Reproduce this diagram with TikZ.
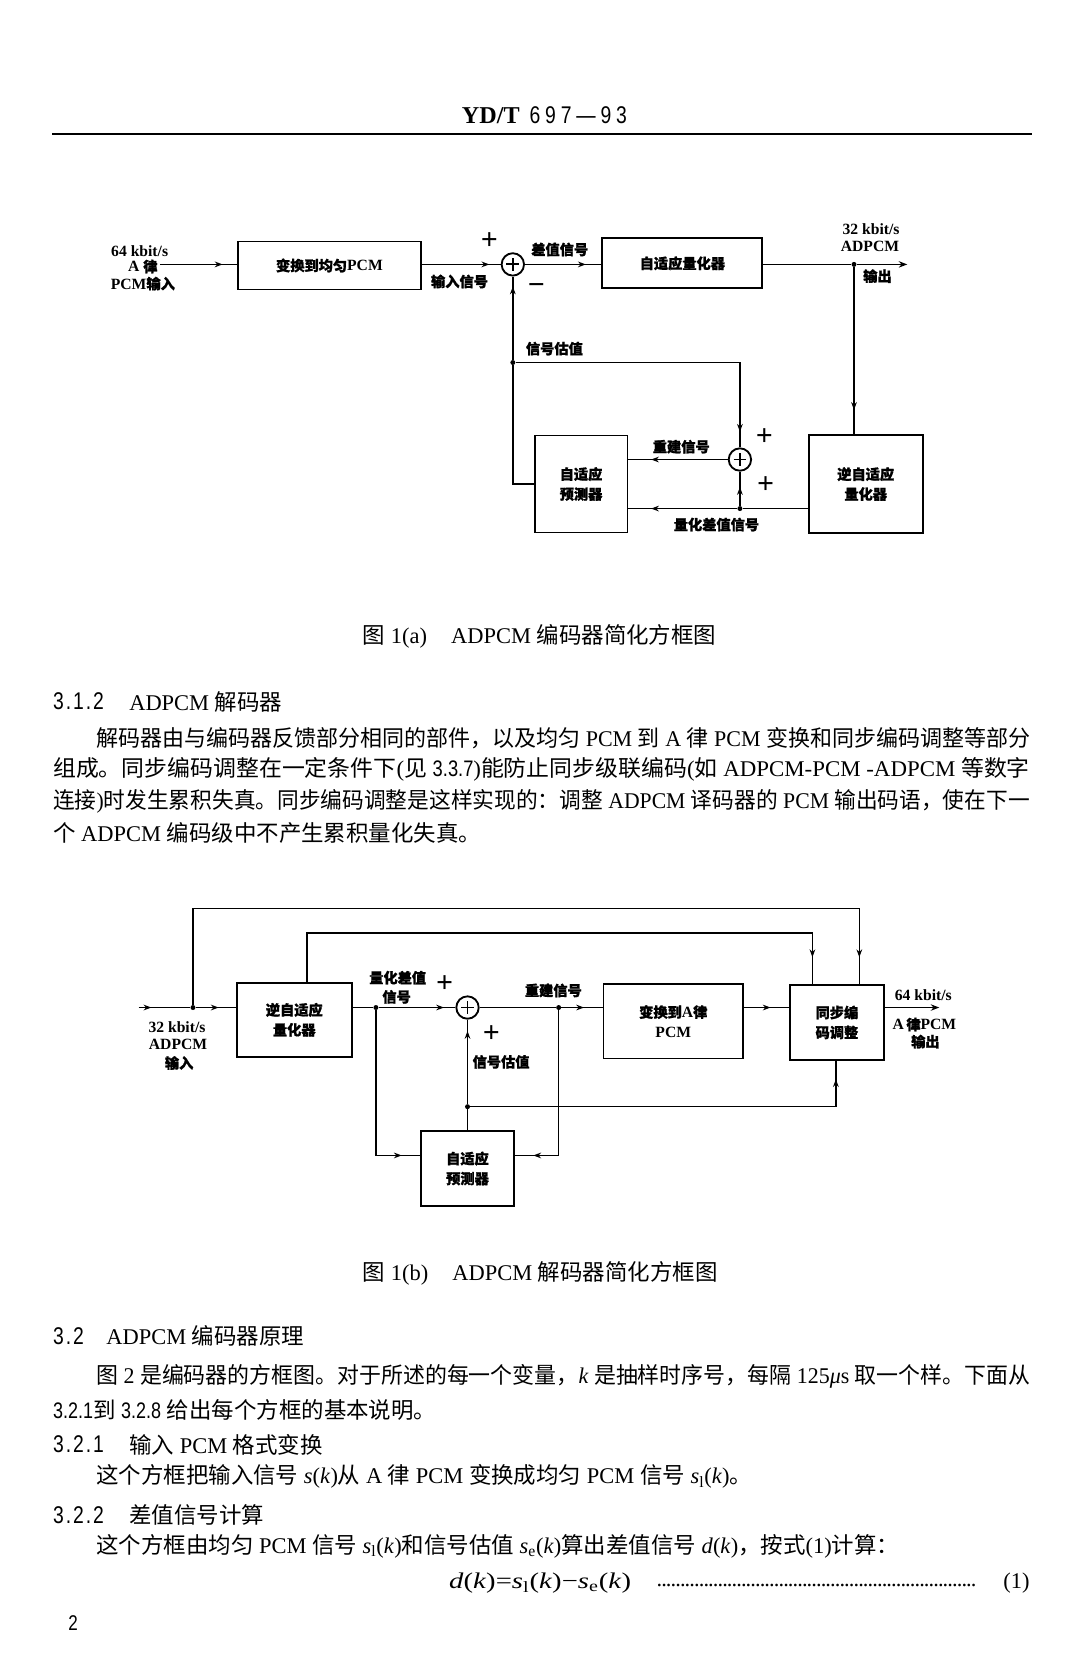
\documentclass[tikz,border=0pt]{standalone}
\usepackage{fontspec}
\setmainfont{Liberation Serif}
\newfontfamily\cjk{Noto Sans CJK SC}
\newfontfamily\cjkb{Noto Sans CJK SC}[FakeBold=1.2]
\newfontfamily\narrow{Liberation Sans}[FakeStretch=0.8]
\newfontfamily\secnumfont{Liberation Sans}[FakeStretch=0.8,LetterSpace=8]
\newfontfamily\hdrnum{Liberation Sans}[FakeStretch=0.8,LetterSpace=20]
\usetikzlibrary{arrows.meta,decorations.markings}
\newcommand\zh[1]{{\cjk #1}}
\newcommand\zb[1]{{\cjkb\fontsize{10}{14}\selectfont #1}}
\newcommand\nr[1]{{\narrow #1}}
\newcommand\fitline[2]{\resizebox{#1}{\height}{#2}}
\tikzset{
  conn/.style={line width=1.1pt},
  blk/.style={draw, line width=1.3pt, inner sep=0, align=center, font=\fontsize{11}{14}\selectfont\bfseries},
  lbl/.style={inner sep=0, align=center, font=\fontsize{11}{13}\selectfont\bfseries},
  pm/.style={inner sep=0, font=\fontsize{21}{21}\selectfont\bfseries},
  sumnode/.style={circle, draw, line width=1.3pt, minimum size=15.75pt, inner sep=0,
    path picture={\draw[line width=1.3pt]
      ([xshift=-4.5pt]path picture bounding box.center) -- ([xshift=4.5pt]path picture bounding box.center)
      ([yshift=-4.5pt]path picture bounding box.center) -- ([yshift=4.5pt]path picture bounding box.center);}},
  dot/.style={circle, fill, inner sep=0, minimum size=3.5pt},
  arrowat/.style={postaction={decorate, decoration={markings, mark=at position #1 with {\arrow{Stealth[length=5.5pt,width=4pt]}}}}},
  endarrow/.style={-{Stealth[length=6pt,width=4.5pt]}},
  body/.style={anchor=west, inner sep=0, font=\fontsize{15.8}{19}\selectfont},
  secnum/.style={anchor=west, inner sep=0, font=\fontsize{17}{19}\selectfont\secnumfont},
}
\begin{document}
\begin{tikzpicture}[x=0.75pt, y=-0.75pt]
\useasboundingbox[fill=white] (0,0) rectangle (1024,1572);

% header
\node[anchor=west, inner sep=0] (hd) at (433,108) {\fontsize{17}{20}\selectfont\bfseries YD/T\hspace{7pt}{\hdrnum\mdseries 697—93}};
\draw[line width=1.6pt] (49,126) -- (968,126);

% ---------------- Fig 1(a)
\node[lbl] (t64a) at (131,236) {64 kbit/s};
\node[lbl, anchor=east] (tAa) at (148,250) {A \zb{律}};
\node[lbl] (tPa) at (134,266) {PCM\zb{输入}};
\coordinate (inA) at (150,248);
\node[blk, minimum width=129pt, minimum height=33.75pt] (b1a) at (309,249) {\zb{变换到均匀}PCM};
\node[sumnode] (s1) at (481,248) {};
\node[blk, minimum width=112.5pt, minimum height=35.25pt] (b2a) at (640,247) {\zb{自适应量化器}};
\node[dot] (dO) at (801,248) {};
\coordinate (oA) at (851,248);
\node[blk, minimum width=80.25pt, minimum height=69pt] (b4a) at (812,454) {\zb{逆自适应}\\\zb{量化器}};
\node[blk, minimum width=65.25pt, minimum height=68.25pt] (b3a) at (545,454) {\zb{自适应}\\\zb{预测器}};
\node[sumnode] (s2) at (694,431) {};
\node[dot] (dQ) at (694,477) {};
\node[dot] (dE) at (481,340) {};

\draw[conn, arrowat=-10pt] (inA) -- (inA -| b1a.west);
\draw[conn, arrowat=-8pt] (b1a.east |- s1) -- (s1.west);
\draw[conn, arrowat=-11pt] (s1.east) -- (s1 -| b2a.west);
\draw[conn] (b2a.east |- dO) -- (dO);
\draw[conn, endarrow] (dO) -- (oA);
\draw[conn, arrowat=-17pt] (dO) -- (dO |- b4a.north);
\draw[conn] (b4a.west |- dQ) -- (dQ);
\draw[conn, arrowat=-16pt] (dQ) -- (b3a.east |- dQ);
\draw[conn, arrowat=0.55] (dQ) -- (s2.south);
\draw[conn, arrowat=-16pt] (s2.west) -- (b3a.east |- s2);
\draw[conn] (b3a.west) -| (dE);
\draw[conn, arrowat=-7pt] (dE) -- (s1.south);
\draw[conn, arrowat=-11pt] (dE) -| (s2.north);

\node[lbl] (la1) at (431,264) {\zb{输入信号}};
\node[lbl] (la2) at (525,234) {\zb{差值信号}};
\node[pm] (pa1) at (459,226) {+};
\node[pm] (pa2) at (503,271) {−};
\node[lbl] (la3) at (817,215) {32 kbit/s};
\node[lbl] (la4) at (816,231) {ADPCM};
\node[lbl] (la5) at (823,259) {\zb{输出}};
\node[lbl] (la6) at (520,327) {\zb{信号估值}};
\node[lbl] (la7) at (639,419) {\zb{重建信号}};
\node[lbl] (la8) at (672,492) {\zb{量化差值信号}};
\node[pm] (pa3) at (717,410) {+};
\node[pm] (pa4) at (718,455) {+};

\node[body] (capa) at (340,597) {\zh{图} 1(a)\hspace{17pt}ADPCM \zh{编码器简化方框图}};

% ---------------- text 3.1.2
\node[secnum] (h312) at (49.6,658) {3.1.2};
\node[body] (h312t) at (121,658) {ADPCM \zh{解码器}};
\node[body] (l1) at (90,692) {\fitline{657pt}{\zh{解码器由与编码器反馈部分相同的部件，以及均匀} PCM \zh{到} A \zh{律} PCM \zh{变换和同步编码调整等部分}}};
\node[body] (l2) at (49.6,722) {\fitline{687pt}{\zh{组成。同步编码调整在一定条件下}(\zh{见} \nr{3.3.7})\zh{能防止同步级联编码}(\zh{如} ADPCM-PCM -ADPCM \zh{等数字}}};
\node[body] (l3) at (49.6,752) {\fitline{687pt}{\zh{连接})\zh{时发生累积失真。同步编码调整是这样实现的：调整} ADPCM \zh{译码器的} PCM \zh{输出码语，使在下一}}};
\node[body] (l4) at (49.6,781) {\zh{个} ADPCM \zh{编码级中不产生累积量化失真。}};

% ---------------- Fig 1(b)
\coordinate (inB) at (130,945);
\node[dot] (dIn) at (181,945) {};
\node[blk, minimum width=81pt, minimum height=51.75pt] (b1b) at (276,956.5) {\zb{逆自适应}\\\zb{量化器}};
\node[dot] (d1) at (352.6,945) {};
\node[sumnode] (s3) at (438.5,945) {};
\node[dot] (d2) at (524,945) {};
\node[blk, minimum width=98.25pt, minimum height=52.1pt] (bT) at (631.5,958) {\zb{变换到}A\zb{律}\\PCM};
\node[blk, minimum width=66pt, minimum height=52.5pt] (bS) at (785,959) {\zb{同步编}\\\zb{码调整}};
\coordinate (oB) at (881,945);
\node[blk, minimum width=65.25pt, minimum height=52.5pt] (pr) at (438.5,1096) {\zb{自适应}\\\zb{预测器}};
\node[dot] (d3) at (438.5,1038) {};

\draw[conn, arrowat=9pt] (inB) -- (dIn);
\draw[conn, arrowat=-12pt] (dIn) -- (dIn -| b1b.west);
\draw[conn] (b1b.east |- d1) -- (d1);
\draw[conn, arrowat=-8pt] (d1) -- (s3.west);
\draw[conn] (s3.east) -- (d2);
\draw[conn, arrowat=-13pt] (d2) -- (d2 -| bT.west);
\draw[conn, arrowat=-13pt] (bT.east |- d2) -- (bS.west |- d2);
\draw[conn, endarrow] (bS.east |- d2) -- (oB);
\draw[conn, arrowat=-13pt] (d1) |- ([yshift=9.2pt]pr.west);
\draw[conn, arrowat=-13pt] (d2) |- ([yshift=9.2pt]pr.east);
\draw[conn] (pr.north) -- (d3);
\draw[conn, arrowat=-8pt] (d3) -- (s3.south);
\draw[conn, arrowat=-13pt] (d3) -| ([xshift=-0.75pt]bS.south);
\draw[conn, arrowat=-19pt] (dIn) -- ++(0,-93) -| ([xshift=15.75pt]bS.north);
\draw[conn, arrowat=-19pt] ([xshift=9pt]b1b.north) -- ++(0,-46) -| ([xshift=-17.25pt]bS.north);

\node[lbl] (lb1) at (373,917) {\zb{量化差值}};
\node[lbl] (lb2) at (372,935) {\zb{信号}};
\node[pm] (pb1) at (417,923) {+};
\node[pm] (pb2) at (461,970) {+};
\node[lbl] (lb3) at (470,996) {\zb{信号估值}};
\node[lbl] (lb4) at (519,929) {\zb{重建信号}};
\node[lbl] (lb5) at (166,963) {32 kbit/s};
\node[lbl] (lb6) at (167,980) {ADPCM};
\node[lbl] (lb7) at (168,997) {\zb{输入}};
\node[lbl] (lb8) at (866,933) {64 kbit/s};
\node[lbl] (lb9) at (867,961) {A\,\zb{律}PCM};
\node[lbl] (lb10) at (868,977) {\zb{输出}};

\node[body] (capb) at (340,1194) {\zh{图} 1(b)\hspace{17pt}ADPCM \zh{解码器简化方框图}};

% ---------------- text 3.2
\node[secnum] (h32) at (49.6,1253) {3.2};
\node[body] (h32t) at (99.5,1253) {ADPCM \zh{编码器原理}};
\node[body] (p1) at (90,1291) {\fitline{657pt}{\zh{图} 2 \zh{是编码器的方框图。对于所述的每一个变量，}\textit{k} \zh{是抽样时序号，每隔} 125\textit{μ}s \zh{取一个样。下面从}}};
\node[body] (p2) at (49.6,1322) {\nr{3.2.1}\zh{到} \nr{3.2.8} \zh{给出每个方框的基本说明。}};
\node[secnum] (h321) at (49.6,1355) {3.2.1};
\node[body] (h321t) at (121,1355) {\zh{输入} PCM \zh{格式变换}};
\node[body] (p3) at (90,1385) {\zh{这个方框把输入信号} \textit{s}(\textit{k})\zh{从} A \zh{律} PCM \zh{变换成均匀} PCM \zh{信号} \textit{s}\textsubscript{l}(\textit{k})\zh{。}};
\node[secnum] (h322) at (49.6,1421) {3.2.2};
\node[body] (h322t) at (121,1421) {\zh{差值信号计算}};
\node[body] (p4) at (90,1450) {\zh{这个方框由均匀} PCM \zh{信号} \textit{s}\textsubscript{l}(\textit{k})\zh{和信号估值} \textit{s}\textsubscript{e}(\textit{k})\zh{算出差值信号} \textit{d}(\textit{k})\zh{，按式}(1)\zh{计算：}};
\node[body] (eq) at (421,1485) {\fitline{128pt}{\textit{d}(\textit{k})=\textit{s}\textsubscript{l}(\textit{k})−\textit{s}\textsubscript{e}(\textit{k})}};
\node[body] (eqdots) at (616,1487) {\hbox to 225pt{\leaders\hbox to 3.3pt{\hss.\hss}\hfill}};
\node[body, anchor=east] (eqn) at (966,1485) {(1)};
\node[inner sep=0, font=\fontsize{15}{18}\selectfont\narrow] (pg) at (68.5,1522) {2};
\end{tikzpicture}
\end{document}
